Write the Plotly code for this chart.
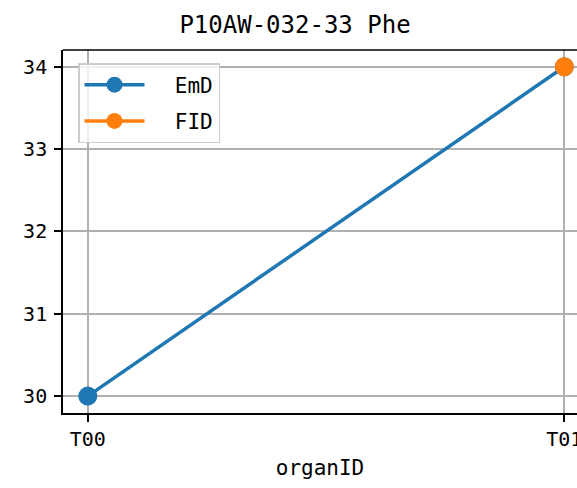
import plotly.graph_objects as go

categories = ["T00", "T01"]
emd_x = ["T00", "T01"]
emd_y = [30, 34]
fid_x = ["T01"]
fid_y = [34]
y_ticks = [30, 31, 32, 33, 34]

FONT = "DejaVu Sans Mono"
W, H = 577, 488
L, R, T, B = 63, 0, 50, 75
NB = "\u00a0"

fig = go.Figure()
fig.add_trace(go.Scatter(x=emd_x, y=emd_y, mode="lines+markers", name=NB * 2 + "EmD",
                         legendgroup="a",
                         line=dict(color="#1f77b4", width=3.5),
                         marker=dict(color="#1f77b4", size=19)))
fig.add_trace(go.Scatter(x=fid_x, y=fid_y, mode="lines+markers", name=NB * 2 + "FID",
                         legendgroup="b",
                         line=dict(color="#ff7f0e", width=3.5),
                         marker=dict(color="#ff7f0e", size=19)))

fig.update_layout(
    width=W, height=H,
    margin=dict(l=L, r=R, t=T, b=B, pad=0, autoexpand=False),
    plot_bgcolor="white", paper_bgcolor="white",
    font=dict(family=FONT, color="black", size=20),
    title=dict(text="P10AW-032-33 Phe", x=295 / W, xref="container", xanchor="center",
               y=1 - 25 / H, yref="container", yanchor="middle",
               font=dict(family=FONT, size=24, color="black")),
    showlegend=True,
    legend=dict(x=(78 - L) / (W - L - R), y=(413 - 63) / (H - T - B),
                xanchor="left", yanchor="top",
                bgcolor="rgba(255,255,255,0.8)", bordercolor="#cccccc", borderwidth=1.5,
                font=dict(family=FONT, size=21, color="black"),
                itemwidth=60, tracegroupgap=6),
)
fig.update_xaxes(type="category", categoryorder="array", categoryarray=categories,
                 range=[-0.052, 1.0266], showgrid=True, gridcolor="#b0b0b0", gridwidth=1.6,
                 showline=True, linecolor="black", linewidth=1.6, mirror=False,
                 ticks="outside", ticklen=7, tickwidth=1.6, tickcolor="black",
                 tickfont=dict(family=FONT, size=20, color="black"),
                 title=dict(text="organID", font=dict(family=FONT, size=21, color="black"), standoff=11),
                 zeroline=False, automargin=False)
fig.update_yaxes(range=[29.795, 34.203], tickvals=y_ticks, showgrid=True, gridcolor="#b0b0b0",
                 gridwidth=1.6, showline=True, linecolor="black", linewidth=1.6, mirror=False,
                 ticks="outside", ticklen=7, tickwidth=1.6, tickcolor="black",
                 ticklabelstandoff=3,
                 tickfont=dict(family=FONT, size=20, color="black"), zeroline=False,
                 automargin=False)
fig.add_shape(type="line", xref="paper", yref="paper", x0=0, x1=1, y0=1, y1=1,
              line=dict(color="black", width=1.6))
fig.write_html("out.html", config={"displayModeBar": False},
               post_script="document.body.style.margin='0';")
